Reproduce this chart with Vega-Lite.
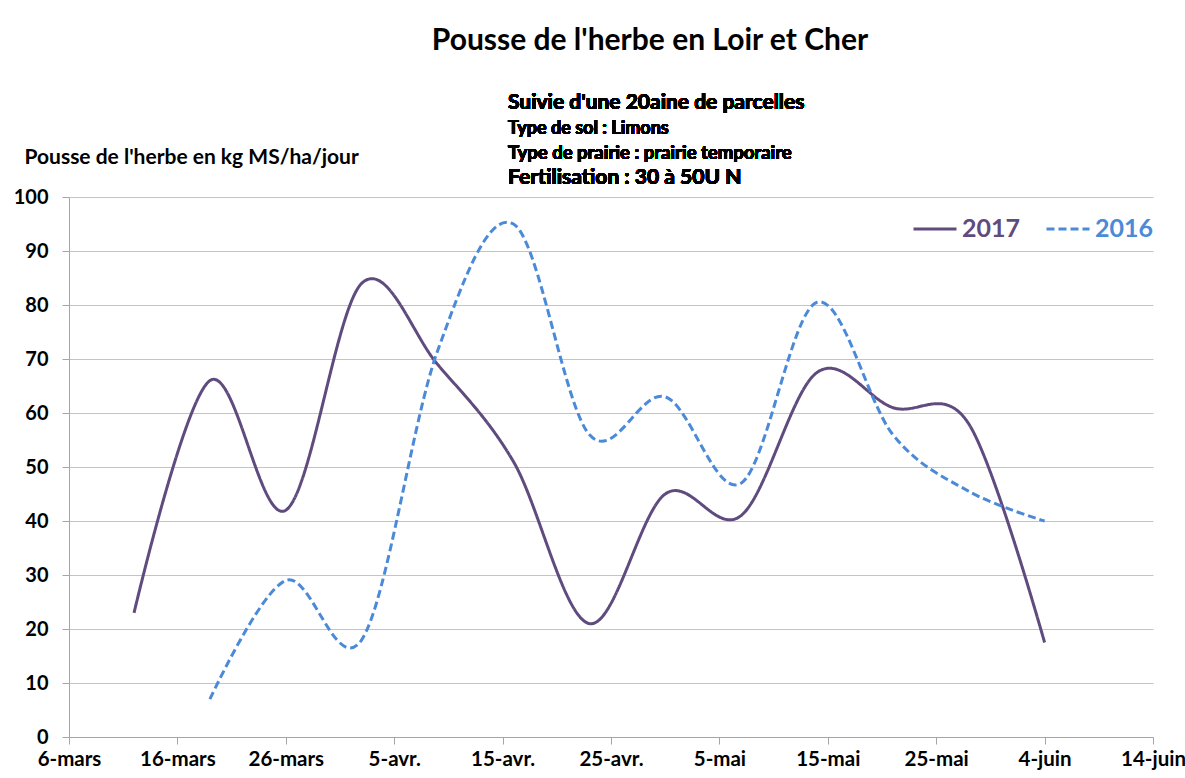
{
  "$schema": "https://vega.github.io/schema/vega-lite/v6.json",
  "width": 1084,
  "height": 540,
  "autosize": {"type": "none"},
  "padding": {"left": 69, "top": 197, "right": 32, "bottom": 41},
  "background": "white",
  "config": {
    "font": "Lato",
    "view": {"stroke": null}
  },
  "title": {
    "text": "Pousse de l'herbe en Loir et Cher",
    "font": "Lato",
    "fontSize": 30,
    "fontWeight": "bold",
    "color": "#000000",
    "anchor": "middle",
    "dx": 39,
    "frame": "group",
    "baseline": "alphabetic",
    "offset": 12
  },
  "data": {
    "values": [
      {"date": "2017-03-12", "serie": "2017", "v": 23},
      {"date": "2017-03-19", "serie": "2017", "v": 66},
      {"date": "2017-03-26", "serie": "2017", "v": 42},
      {"date": "2017-04-02", "serie": "2017", "v": 84},
      {"date": "2017-04-09", "serie": "2017", "v": 69},
      {"date": "2017-04-16", "serie": "2017", "v": 51},
      {"date": "2017-04-23", "serie": "2017", "v": 21},
      {"date": "2017-04-30", "serie": "2017", "v": 45},
      {"date": "2017-05-07", "serie": "2017", "v": 41},
      {"date": "2017-05-14", "serie": "2017", "v": 67.5},
      {"date": "2017-05-21", "serie": "2017", "v": 61},
      {"date": "2017-05-28", "serie": "2017", "v": 58},
      {"date": "2017-06-04", "serie": "2017", "v": 17.5},
      {"date": "2017-03-19", "serie": "2016", "v": 7},
      {"date": "2017-03-26", "serie": "2016", "v": 29},
      {"date": "2017-04-02", "serie": "2016", "v": 18},
      {"date": "2017-04-09", "serie": "2016", "v": 71.5},
      {"date": "2017-04-16", "serie": "2016", "v": 95},
      {"date": "2017-04-23", "serie": "2016", "v": 56},
      {"date": "2017-04-30", "serie": "2016", "v": 63},
      {"date": "2017-05-07", "serie": "2016", "v": 47},
      {"date": "2017-05-14", "serie": "2016", "v": 80.5},
      {"date": "2017-05-21", "serie": "2016", "v": 56},
      {"date": "2017-05-28", "serie": "2016", "v": 45.5},
      {"date": "2017-06-04", "serie": "2016", "v": 40}
    ]
  },
  "layer": [
    {
      "mark": {"type": "line", "interpolate": "cardinal", "strokeWidth": 3, "clip": false},
      "encoding": {
        "x": {
          "field": "date",
          "type": "temporal",
          "scale": {
            "type": "utc",
            "domain": [
              {"year": 2017, "month": 3, "date": 6, "utc": true},
              {"year": 2017, "month": 6, "date": 14, "utc": true}
            ]
          },
          "axis": {
            "title": null,
            "values": [
              {"year": 2017, "month": 3, "date": 6, "utc": true},
              {"year": 2017, "month": 3, "date": 16, "utc": true},
              {"year": 2017, "month": 3, "date": 26, "utc": true},
              {"year": 2017, "month": 4, "date": 5, "utc": true},
              {"year": 2017, "month": 4, "date": 15, "utc": true},
              {"year": 2017, "month": 4, "date": 25, "utc": true},
              {"year": 2017, "month": 5, "date": 5, "utc": true},
              {"year": 2017, "month": 5, "date": 15, "utc": true},
              {"year": 2017, "month": 5, "date": 25, "utc": true},
              {"year": 2017, "month": 6, "date": 4, "utc": true},
              {"year": 2017, "month": 6, "date": 14, "utc": true}
            ],
            "labelExpr": "utcdate(datum.value) + '-' + ['janv.','févr.','mars','avr.','mai','juin','juil.'][utcmonth(datum.value)]",
            "grid": false,
            "domainColor": "#A6A6A6",
            "tickColor": "#A6A6A6",
            "tickSize": 7,
            "labelPadding": 5,
            "labelFont": "Lato",
            "labelFontSize": 20.5,
            "labelFontWeight": "bold",
            "labelColor": "#000000",
            "labelFlush": false,
            "labelOverlap": false
          }
        },
        "y": {
          "field": "v",
          "type": "quantitative",
          "scale": {"domain": [0, 100], "nice": false, "zero": true},
          "axis": {
            "values": [0, 10, 20, 30, 40, 50, 60, 70, 80, 90, 100],
            "title": "Pousse de l'herbe en kg MS/ha/jour",
            "titleAngle": 0,
            "titleAlign": "left",
            "titleBaseline": "middle",
            "titleX": -45,
            "titleY": -40,
            "titleFont": "Lato",
            "titleFontSize": 21,
            "titleFontWeight": "bold",
            "titleColor": "#000000",
            "grid": true,
            "gridColor": "#C4C4C4",
            "gridWidth": 1,
            "domainColor": "#A6A6A6",
            "tickColor": "#A6A6A6",
            "tickSize": 7,
            "labelPadding": 14,
            "labelFont": "Lato",
            "labelFontSize": 20,
            "labelFontWeight": "bold",
            "labelColor": "#000000"
          }
        },
        "color": {
          "field": "serie",
          "type": "nominal",
          "scale": {"domain": ["2017", "2016"], "range": ["#5F4B7E", "#4A8AD8"]},
          "legend": {
            "title": null,
            "orient": "none",
            "legendX": 843,
            "legendY": 9,
            "direction": "horizontal",
            "symbolType": "stroke",
            "symbolSize": 1849,
            "symbolStrokeWidth": 3,
            "labelFont": "Lato",
            "labelFontSize": 25,
            "labelFontWeight": "bold",
            "labelOffset": 4,
            "columnPadding": 19,
            "encode": {
              "labels": {"update": {"fill": {"scale": "color", "field": "value"}}}
            }
          }
        },
        "strokeDash": {
          "field": "serie",
          "type": "nominal",
          "scale": {"domain": ["2017", "2016"], "range": [[1, 0], [8, 4]]},
          "legend": {
            "title": null,
            "orient": "none",
            "legendX": 843,
            "legendY": 9,
            "direction": "horizontal",
            "symbolType": "stroke",
            "symbolSize": 1849,
            "symbolStrokeWidth": 3,
            "labelFont": "Lato",
            "labelFontSize": 25,
            "labelFontWeight": "bold",
            "labelOffset": 4,
            "columnPadding": 19,
            "encode": {
              "labels": {"update": {"fill": {"scale": "color", "field": "value"}}}
            }
          }
        }
      }
    },
    {
      "mark": {"type": "text", "align": "left", "baseline": "middle", "font": "Lato", "fontSize": 21, "fontWeight": "bold", "color": "#000000", "text": "Suivie d'une 20aine de parcelles"},
      "encoding": {
        "x": {"datum": {"year": 2017, "month": 4, "date": 15, "hours": 12, "utc": true}, "type": "temporal"},
        "y": {"datum": 117.4}
      }
    },
    {
      "mark": {"type": "text", "align": "left", "baseline": "middle", "font": "Lato", "fontSize": 18, "fontWeight": "bold", "color": "#000000", "text": "Type de sol : Limons"},
      "encoding": {
        "x": {"datum": {"year": 2017, "month": 4, "date": 15, "hours": 12, "utc": true}, "type": "temporal"},
        "y": {"datum": 112.6}
      }
    },
    {
      "mark": {"type": "text", "align": "left", "baseline": "middle", "font": "Lato", "fontSize": 18.5, "fontWeight": "bold", "color": "#000000", "text": "Type de prairie : prairie temporaire"},
      "encoding": {
        "x": {"datum": {"year": 2017, "month": 4, "date": 15, "hours": 12, "utc": true}, "type": "temporal"},
        "y": {"datum": 108.1}
      }
    },
    {
      "mark": {"type": "text", "align": "left", "baseline": "middle", "font": "Lato", "fontSize": 21, "fontWeight": "bold", "color": "#000000", "text": "Fertilisation : 30 à 50U N"},
      "encoding": {
        "x": {"datum": {"year": 2017, "month": 4, "date": 15, "hours": 12, "utc": true}, "type": "temporal"},
        "y": {"datum": 103.5}
      }
    }
  ]
}
